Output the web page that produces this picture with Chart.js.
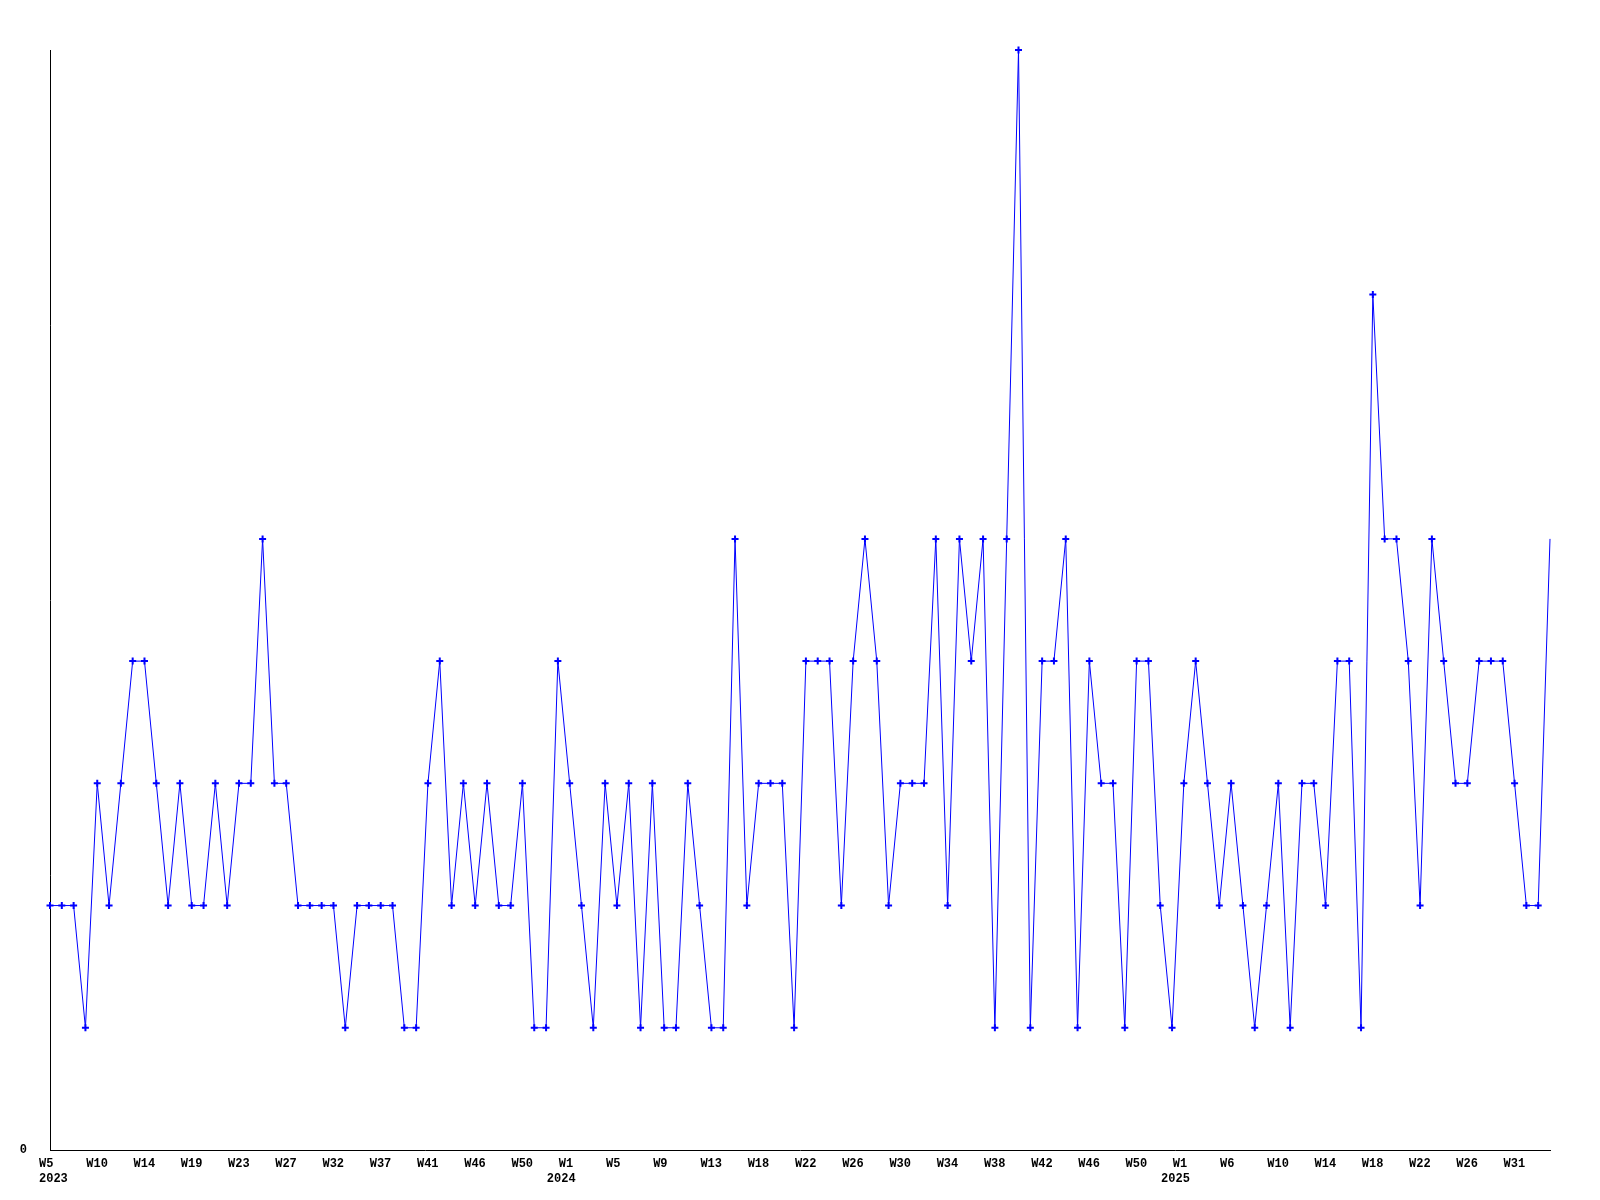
<!DOCTYPE html>
<html>
<head>
<meta charset="utf-8">
<script src="https://cdn.jsdelivr.net/npm/chart.js@4/dist/chart.umd.min.js"></script>
<style>
  html, body { margin: 0; padding: 0; background: #ffffff; }
  #c { display: block; }
</style>
</head>
<body>
<canvas id="c" width="1600" height="1200"></canvas>
<script>
// Weekly counts, 128 samples starting 2023 W5
const values = [
  2, 2, 2, 1, 3, 2, 3, 4, 4, 3, 2, 3, 2, 2, 3, 2,
  3, 3, 5, 3, 3, 2, 2, 2, 2, 1, 2, 2, 2, 2, 1, 1,
  3, 4, 2, 3, 2, 3, 2, 2, 3, 1, 1, 4, 3, 2, 1, 3,
  2, 3, 1, 3, 1, 1, 3, 2, 1, 1, 5, 2, 3, 3, 3, 1,
  4, 4, 4, 2, 4, 5, 4, 2, 3, 3, 3, 5, 2, 5, 4, 5,
  1, 5, 9, 1, 4, 4, 5, 1, 4, 3, 3, 1, 4, 4, 2, 1,
  3, 4, 3, 2, 3, 2, 1, 2, 3, 1, 3, 3, 2, 4, 4, 1,
  7, 5, 5, 4, 2, 5, 4, 3, 3, 4, 4, 4, 3, 2, 2, 5
];

// Week tick labels, one every 4th sample
const weekTicks = [
  "W5", "W10", "W14", "W19", "W23", "W27", "W32", "W37", "W41", "W46", "W50",
  "W1", "W5", "W9", "W13", "W18", "W22", "W26", "W30", "W34", "W38", "W42", "W46", "W50",
  "W1", "W6", "W10", "W14", "W18", "W22", "W26", "W31"
];
const tickEvery = 4;

// Year labels and the sample index they sit under
const yearLabels = ["2023", "2024", "2025"];
const yearSampleIndex = [0, 43, 95];

const yMin = 0;
const yMax = 9;
const yTickLabels = { 0: "0" };

// Category labels built from the arrays above
const categories = values.map((v, i) => (i % tickEvery === 0 ? (weekTicks[i / tickEvery] || "") : ""));
const yearCategories = values.map((v, i) => {
  const k = yearSampleIndex.indexOf(i);
  return k >= 0 ? yearLabels[k] : "";
});

const FONT = { family: "'Liberation Mono', 'DejaVu Sans Mono', monospace", size: 12, weight: "bold", lineHeight: 1.25 };
const lastIndex = values.length - 1;

new Chart(document.getElementById("c"), {
  type: "line",
  data: {
    labels: categories,
    datasets: [{
      data: values,
      xAxisID: "x",
      yAxisID: "y",
      borderColor: "#0000ff",
      backgroundColor: "#0000ff",
      borderWidth: 1,
      tension: 0,
      fill: false,
      pointStyle: "cross",
      pointRadius: (ctx) => ctx.dataIndex === lastIndex ? 0 : 3.5,
      pointBorderWidth: 2,
      pointBorderColor: "#0000ff",
      pointBackgroundColor: "#0000ff",
      clip: 6
    }]
  },
  options: {
    responsive: false,
    devicePixelRatio: 1,
    animation: false,
    events: [],
    layout: { padding: { top: 50, right: 50, bottom: 0, left: 0 } },
    plugins: {
      legend: { display: false },
      tooltip: { enabled: false },
      title: { display: false }
    },
    scales: {
      x: {
        type: "category",
        position: "bottom",
        offset: false,
        grid: { display: false, drawTicks: false },
        border: { display: true, color: "#000000", width: 1 },
        ticks: {
          autoSkip: false,
          maxRotation: 0,
          minRotation: 0,
          align: "start",
          labelOffset: -11,
          padding: 6,
          color: "#000000",
          font: FONT,
          callback: function (value, index) { return categories[index]; }
        },
        afterFit: function (scale) { scale.height = 21; }
      },
      x2: {
        type: "category",
        axis: "x",
        position: "bottom",
        labels: yearCategories,
        offset: false,
        grid: { display: false, drawTicks: false },
        border: { display: false },
        ticks: {
          autoSkip: false,
          maxRotation: 0,
          minRotation: 0,
          align: "start",
          labelOffset: -11,
          padding: 0,
          color: "#000000",
          font: FONT,
          callback: function (value, index) { return yearCategories[index]; }
        },
        afterFit: function (scale) { scale.height = 29; }
      },
      y: {
        min: yMin,
        max: yMax,
        grid: { display: false, drawTicks: false },
        border: { display: true, color: "#000000", width: 1 },
        ticks: {
          stepSize: 1,
          padding: 23,
          color: "#000000",
          font: FONT,
          callback: function (value) { return yTickLabels[value] !== undefined ? yTickLabels[value] : ""; }
        },
        afterFit: function (scale) { scale.width = 50; }
      }
    }
  }
});
</script>
</body>
</html>
